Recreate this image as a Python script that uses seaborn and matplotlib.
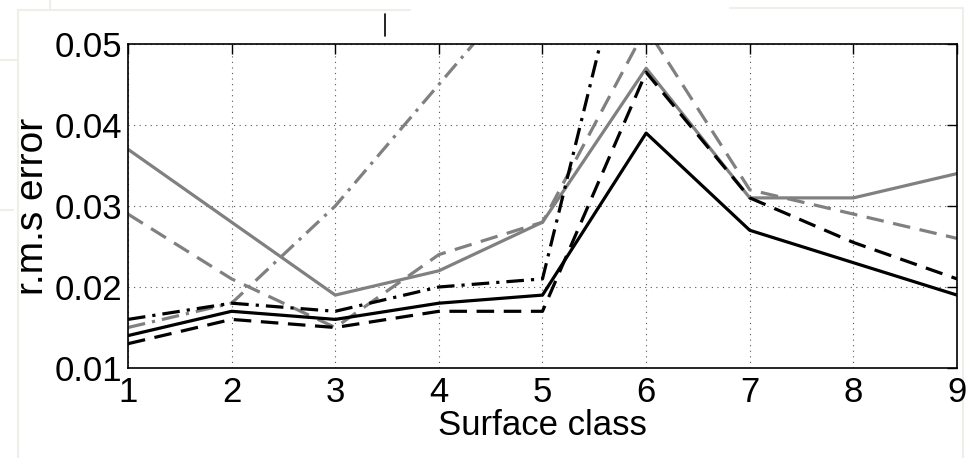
import numpy as np
import pandas as pd
import seaborn as sns
import matplotlib.pyplot as plt
from matplotlib.lines import Line2D

# surface classes on the x axis
classes = [1, 2, 3, 4, 5, 6, 7, 8, 9]

# r.m.s error per series (values above 0.05 run off the top of the plot)
black_solid = [0.014, 0.017, 0.016, 0.018, 0.019, 0.039, 0.027, 0.023, 0.019]
black_dashed = [0.013, 0.016, 0.015, 0.017, 0.017, 0.0465, 0.031, 0.0255, 0.021]
black_dashdot = [0.016, 0.018, 0.017, 0.020, 0.021, 0.073, 0.065, 0.062, 0.060]
gray_solid = [0.037, 0.028, 0.019, 0.022, 0.028, 0.047, 0.031, 0.031, 0.034]
gray_dashed = [0.029, 0.021, 0.015, 0.024, 0.028, 0.052, 0.032, 0.029, 0.026]
gray_dashdot = [0.015, 0.018, 0.030, 0.045, 0.060, 0.070, 0.065, 0.062, 0.060]

yticks = [0.01, 0.02, 0.03, 0.04, 0.05]
ytick_labels = ["0.01", "0.02", "0.03", "0.04", "0.05"]

sns.set_style("white")
plt.rcParams["font.family"] = ["Liberation Sans", "DejaVu Sans"]
plt.rcParams["text.color"] = "black"
plt.rcParams["axes.labelcolor"] = "black"
plt.rcParams["xtick.color"] = "black"
plt.rcParams["ytick.color"] = "black"

fig = plt.figure(figsize=(9.71, 4.58), dpi=100)

# faint page edges from the scanned source
page = "#efeee8"
for xs, ys in [([18, 18], [10, 458]), ([18, 410], [10, 10]), ([0, 18], [60, 60]),
               ([0, 13], [210, 210]), ([730, 963], [8, 8]), ([963, 963], [8, 458]),
               ([50, 50], [0, 10])]:
    fig.add_artist(Line2D([x / 971 for x in xs], [1 - y / 458 for y in ys],
                          color=page, linewidth=1.5, zorder=-5))

ax = fig.add_axes([0.1318, 0.1965, 0.8538, 0.7075])
ax.set_facecolor("none")

gray = "#808080"
dashed = (0, (5.5, 3))
dashdot = (0, (5.5, 2.2, 1, 2.2))
series = [
    (gray_dashdot, gray, dashdot),
    (gray_dashed, gray, dashed),
    (gray_solid, gray, "-"),
    (black_dashdot, "black", dashdot),
    (black_dashed, "black", dashed),
    (black_solid, "black", "-"),
]
for vals, col, ls in series:
    sns.lineplot(x=classes, y=vals, color=col, linestyle=ls, linewidth=2.3, ax=ax)

ax.set_xlim(1, 9)
ax.set_ylim(0.01, 0.05)
ax.set_xticks(classes)
ax.set_xticklabels([str(c) for c in classes])
ax.set_yticks(yticks)
ax.set_yticklabels(ytick_labels)
ax.grid(True, linestyle=(0, (1, 4)), color="#555555", linewidth=0.8)
ax.tick_params(direction="in", length=7, width=1, top=True, right=True,
               labelsize=25, pad=6)
ax.tick_params(axis="y", pad=4)
for s in ax.spines.values():
    s.set_color("black")
    s.set_linewidth(1.2)

ax.set_xlabel("Surface class", fontsize=25, labelpad=0)
ax.set_ylabel("r.m.s error", fontsize=28, labelpad=3)

# stray mark above the plot in the scanned figure
fig.add_artist(Line2D([385 / 971, 385 / 971], [1 - 14 / 458, 1 - 36 / 458],
                      color="black", linewidth=1.2))

fig.savefig("out.png", dpi=100, facecolor="white")
